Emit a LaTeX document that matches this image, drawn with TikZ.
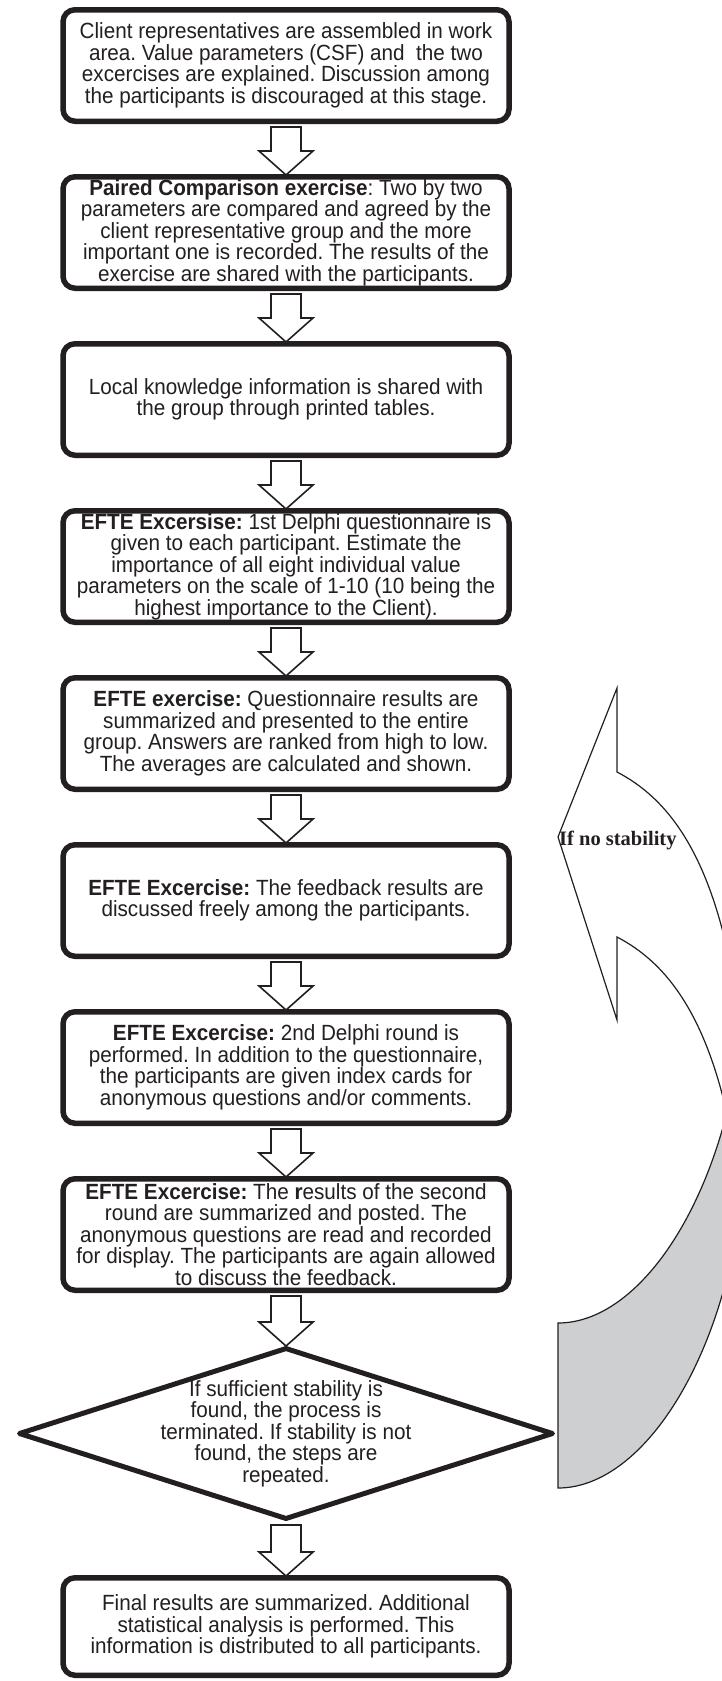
\documentclass[tikz,border=0pt]{standalone}
\usepackage{fontspec}
\setmainfont{Liberation Sans}[FakeStretch=0.94]
\newfontfamily\labelfont{Liberation Serif}
\usetikzlibrary{calc,shapes.geometric}
\definecolor{ink}{RGB}{35,31,32}
\definecolor{backface}{RGB}{206,207,209}
\frenchspacing
\newcommand\boxfont{\fontsize{22}{21.5}\selectfont}
\tikzset{
  stepbox/.style={draw=ink, line width=5.5pt, rounded corners=12pt,
    minimum width=446pt, minimum height=111.5pt, inner sep=0pt,
    align=center, text=ink, font=\boxfont},
  decision/.style={diamond, draw=ink, line width=5pt, line join=round,
    minimum width=535pt, minimum height=172pt, inner sep=0pt},
  flowarrow/.style={draw=ink, line width=1.6pt, fill=white, line join=miter},
  curvedface/.style={draw=ink, line width=1.2pt},
}
% hollow block arrow from the bottom of node #1 to the top of node #2
\newcommand\flowstep[2]{%
  \path (#1.south) ++(0,3) coordinate (#1-out)
        (#2.north) ++(0,1) coordinate (#2-in);
  \draw[flowarrow] ($(#1-out)+(-15,0)$) -- ($(#1-out)+(15,0)$)
    -- ($(#2-in)+(15,-24)$) -- ($(#2-in)+(27,-24)$) -- (#2-in)
    -- ($(#2-in)+(-27,-24)$) -- ($(#2-in)+(-15,-24)$) -- cycle;
}
\begin{document}
\begin{tikzpicture}[x=1pt,y=-1pt]
\useasboundingbox (0,0) rectangle (722,1681);
\fill[white] (0,0) rectangle (722,1681);

\node[stepbox] (b1) at (286,65.5) {Client representatives are assembled in work\\
area. Value parameters (CSF) and~ the two\\
excercises are explained. Discussion among\\
the participants is discouraged at this stage.};

\node[stepbox] (b2) at (286,232.5) {\textbf{Paired Comparison exercise}: Two by two\\
parameters are compared and agreed by the\\
client representative group and the more\\
important one is recorded. The results of the\\
exercise are shared with the participants.};

\node[stepbox] (b3) at (286,399.5) {Local knowledge information is shared with\\
the group through printed tables.};

\node[stepbox] (b4) at (286,566.5) {\textbf{EFTE Excersise:} 1st Delphi questionnaire is\\
given to each participant. Estimate the\\
importance of all eight individual value\\
parameters on the scale of 1-10 (10 being the\\
highest importance to the Client).};

\node[stepbox] (b5) at (286,733.5) {\textbf{EFTE exercise:} Questionnaire results are\\
summarized and presented to the entire\\
group. Answers are ranked from high to low.\\
The averages are calculated and shown.};

\node[stepbox] (b6) at (286,900.5) {\textbf{EFTE Excercise:} The feedback results are\\
discussed freely among the participants.};

\node[stepbox] (b7) at (286,1067.5) {\textbf{EFTE Excercise:} 2nd Delphi round is\\
performed. In addition to the questionnaire,\\
the participants are given index cards for\\
anonymous questions and/or comments.};

\node[stepbox] (b8) at (286,1234.5) {\textbf{EFTE Excercise:} The \textbf{r}esults of the second\\
round are summarized and posted. The\\
anonymous questions are read and recorded\\
for display. The participants are again allowed\\
to discuss the feedback.};

\node[decision] (dec) at (286,1433.5) {};
\node[align=center, text=ink, font=\boxfont, inner sep=0pt] (dectext) at (dec.center)
{If sufficient stability is\\
found, the process is\\
terminated. If stability is not\\
found, the steps are\\
repeated.};

\node[stepbox, minimum height=97.5pt] (b9) at (286,1626.5) {Final results are summarized. Additional\\
statistical analysis is performed. This\\
information is distributed to all participants.};

\flowstep{b1}{b2}
\flowstep{b2}{b3}
\flowstep{b3}{b4}
\flowstep{b4}{b5}
\flowstep{b5}{b6}
\flowstep{b6}{b7}
\flowstep{b7}{b8}
\flowstep{b8}{dec}
\flowstep{dec}{b9}

% curved return arrow running off the right edge
\begin{scope}
\clip (0,0) rectangle (722,1681);
\draw[curvedface, fill=white] (617,688) -- (558,837) -- (617,1020) -- (617,937)
  .. controls (665,962) and (712,1015) .. (735,1155) -- (760,1155) -- (760,990)
  -- (735,990) .. controls (712,850) and (665,797) .. (617,772) -- cycle;
\draw[curvedface, fill=backface] (558,1323) -- (558,1488)
  .. controls (630,1488) and (700,1395) .. (730,1265) -- (760,1265) -- (760,1100)
  -- (730,1100) .. controls (700,1230) and (630,1323) .. (558,1323) -- cycle;
\end{scope}

\node[font=\labelfont\bfseries\fontsize{20.5}{22}\selectfont, text=ink,
  anchor=west, inner sep=0pt] (loop) at (559,840) {If no stability};
\end{tikzpicture}
\end{document}
